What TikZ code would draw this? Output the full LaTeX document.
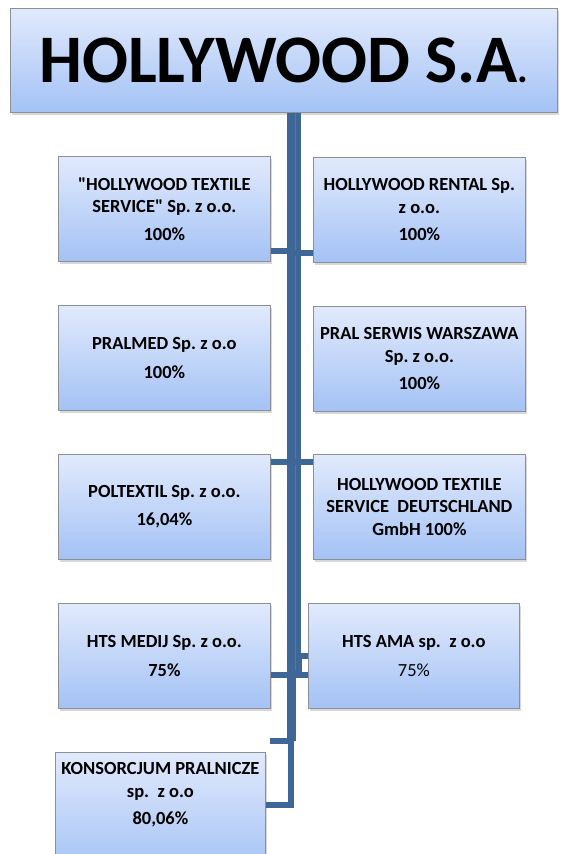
\documentclass[tikz,border=0pt]{standalone}
\usepackage{fontspec}
\setmainfont{Carlito}
\newfontfamily\qfont{Carlito}
\usetikzlibrary{shadows,calc}
\definecolor{boxtop}{RGB}{225,234,252}
\definecolor{boxbot}{RGB}{164,194,245}
\definecolor{boxline}{RGB}{140,144,150}
\definecolor{connc}{RGB}{62,102,151}
\newcommand{\qq}{{\qfont"}}
\frenchspacing
\begin{document}
\begin{tikzpicture}[x=1pt,y=-1pt,
  cbox/.style={draw=boxline, line width=0.8pt, top color=boxtop, bottom color=boxbot,
    minimum width=212pt, minimum height=105pt, inner sep=2pt, align=center,
    anchor=north west, font=\bfseries\fontsize{18.5}{22.5}\selectfont,
    drop shadow={shadow xshift=2pt, shadow yshift=-3pt, opacity=0.3}},
  conn/.style={draw=connc, line width=6pt}]
\useasboundingbox (0,0) rectangle (560,854);
\fill[white] (0,0) rectangle (560,854);

\node[cbox, minimum width=547pt, minimum height=104pt, inner sep=0pt,
  font=\bfseries\fontsize{68}{68}\selectfont] (top) at (10,8)
  {HOLLYWOOD S.A{\fontsize{40}{40}\selectfont.}};

% trunk
\draw[conn, line width=14pt] (top.south -| 294,0) -- (294,676);
\draw[connc!88!white, line width=0.5pt] (top.south -| 295,0) -- (295,676);
\draw[conn, line width=9pt] (291.5,670) -- (291.5,741);

\node[cbox] (b1) at (58,156) {\qq HOLLYWOOD TEXTILE\\SERVICE\qq{} Sp. z o.o.\\[5pt]100\%};
\node[cbox] (b2) at (313,157) {HOLLYWOOD RENTAL Sp.\\z o.o.\\[5pt]100\%};
\node[cbox] (b3) at (58,305) {PRALMED Sp. z o.o\\[6pt]100\%};
\node[cbox] (b4) at (313,306) {PRAL SERWIS WARSZAWA\\Sp. z o.o.\\[5pt]100\%};
\node[cbox] (b5) at (58,454) {POLTEXTIL Sp. z o.o.\\[6pt]16,04\%};
\node[cbox] (b6) at (313,454) {HOLLYWOOD TEXTILE\\SERVICE\ \ DEUTSCHLAND\\GmbH 100\%};
\node[cbox] (b7) at (58,603) {HTS MEDIJ Sp. z o.o.\\[6pt]75\%};
\node[cbox, minimum width=211pt] (b8) at (308,603) {HTS AMA sp.\ \ z o.o\\[6pt]{\mdseries 75\%}};
\node[cbox, minimum width=210pt, minimum height=120pt] (b9) at (55,752) {};
\node[font=\bfseries\fontsize{18.5}{22.5}\selectfont, align=center, inner sep=0pt] (t9)
  at ($(b9.north)+(0,43)$) {KONSORCJUM PRALNICZE\\sp.\ \ z o.o\\[5pt]80,06\%};

% connectors
\draw[conn] ([yshift=11pt]b1.south east) -- ([yshift=11pt]b1.south east -| 294,0);
\draw[conn] ([yshift=10pt]b2.south west -| 294,0) -- ([yshift=10pt]b2.south west);
\draw[conn] ([yshift=-8pt]b5.north east) -- ([yshift=-8pt]b5.north east -| b6.west);
\draw[conn] ([yshift=34pt]b7.south east) -- ([yshift=34pt]b7.south east -| b8.west);
\draw[conn] (b8.west |- 299,656) -- (299,656) -- (299,674);
\coordinate (j1) at (291,741);
\draw[conn, line join=miter] (270,741) -- (j1) -- (291,805) -- (b9.east |- 291,805);
\end{tikzpicture}
\end{document}
